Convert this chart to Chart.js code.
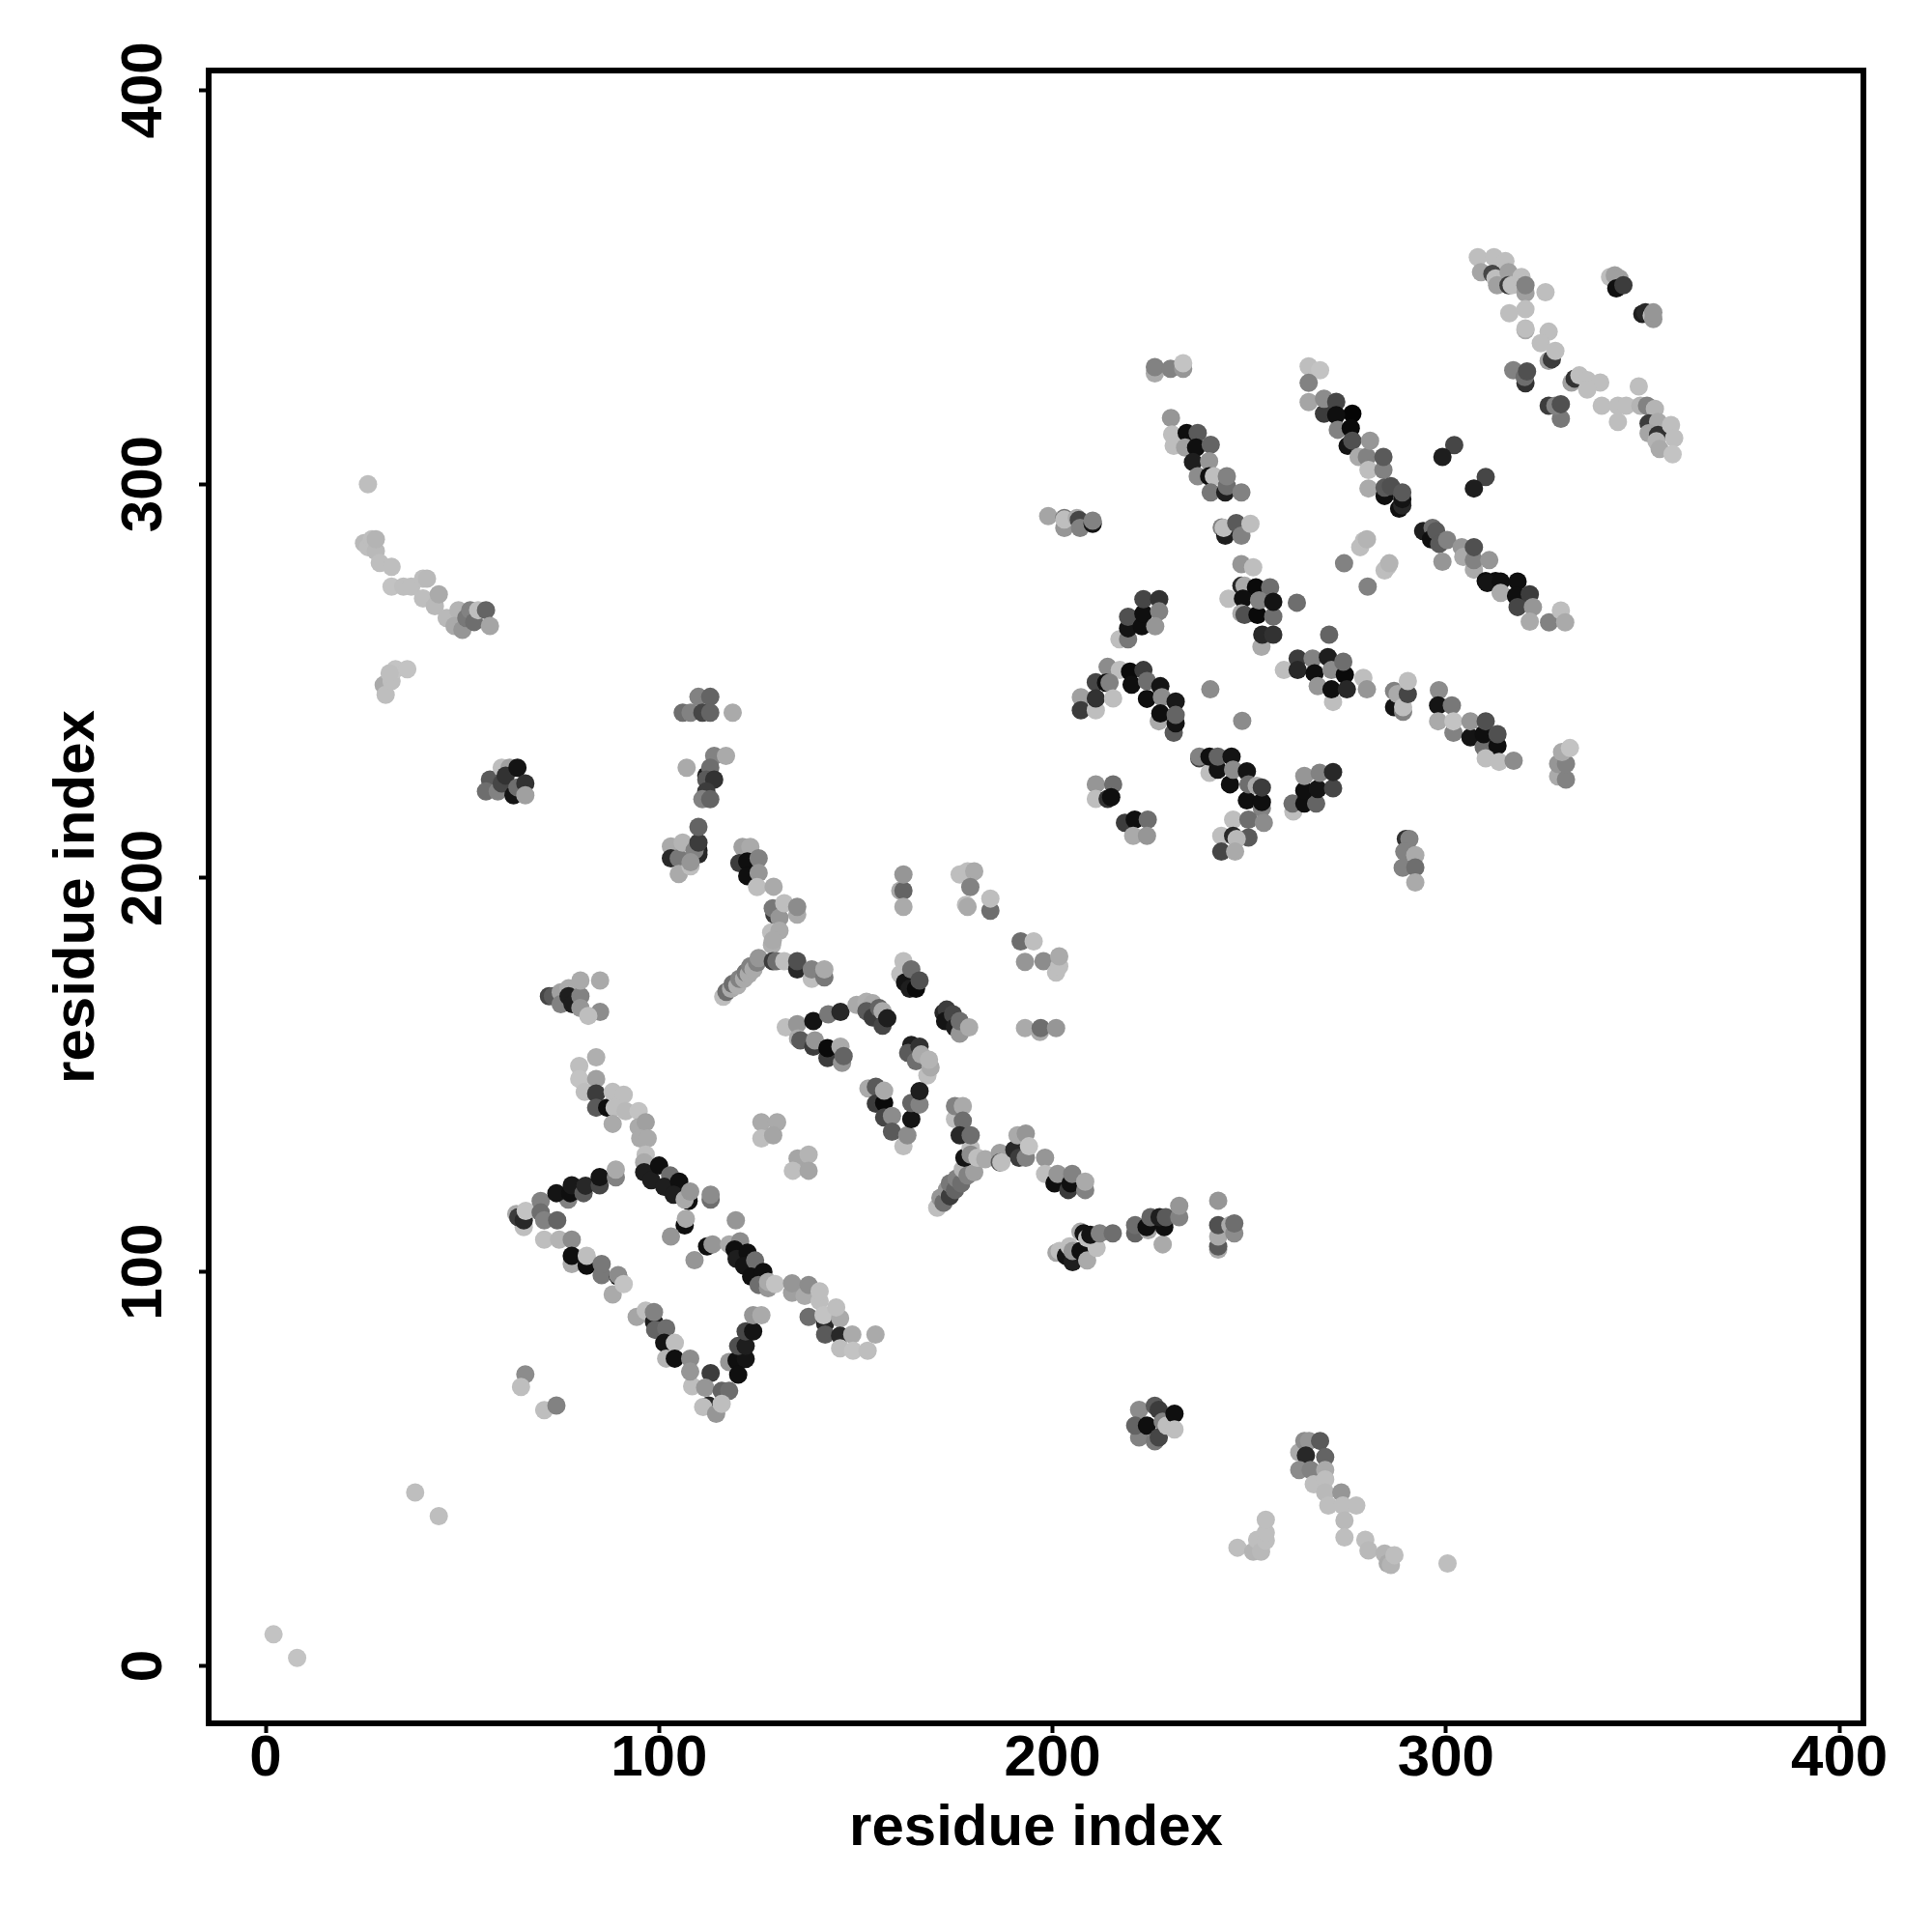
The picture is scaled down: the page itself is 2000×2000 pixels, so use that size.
<!DOCTYPE html>
<html>
<head>
<meta charset="utf-8">
<script src="https://cdn.jsdelivr.net/npm/chart.js@4"></script>
<style>
  html, body { margin: 0; padding: 0; background: #fff; }
</style>
</head>
<body>
<canvas id="contactMap" width="2000" height="2000"></canvas>
<script>
const ctx = document.getElementById('contactMap').getContext('2d');

const tickValues = [0, 100, 200, 300, 400];
const axisTitle = 'residue index';

// each contact is [residue i, residue j, grey level]
const farContacts = [
    [2,8,195],[8,2,195],[38,44,190],[44,38,190],[26,300,190],
    [66,74,140],[64.9,70.8,190],[70.8,64.9,190],[73.9,66.1,130]
];
const leftArm = [
    [25,285,185],[26,284,190],[27,286,190],[28,283,185],[28,286,180],[29,280,190],[32,279,190],[32,274,195],
    [35,274,190],[37,274,190],[40,276,190],[41,276,185],[40,271,190],[43,269,185],[44,272,170],[46,266,185],
    [49,268,180],[48,264,170],[50,263,150],[51,266,120],[52,268,130],[53,265,110],[54,268,190],[56,268,100],[57,264,165],
    [30,249,170],[30.5,246.5,190],[32,250,190],[33,253,195],[36,253,195],[31.5,252,190]
];
const smallBlockA = [
    [57,225,90],[56,222,110],[59,222,130],[60,228,190],[62,228,160],[60,224,70],[61,226,50],[63,221,20],
    [64,223,110],[64,228,20],[66,224,50],[66,221,160]
];
const upperMiddle = [
    [106,242,110],[108,242,130],[110,246,130],[111,242,70],[113,246,100],[113,242,100],[118.7,242,170],[107,228,170],
    [114,231,130],[117,231,170],[112,226,30],[113,228,110],[112,225,90],[114,225,50],[112,222,60],[111,220,130],[113,220,100],
    [103,208,170],[103,205,40],[105,205,120],[105,201,170],[106,209,180],[108,203,190],[110,207,30],[110,206,40],[109,207,130],[110,209,60],[110,213,100],[108,204,150],
    [121.2,207.9,160],[123.2,207.9,170],[120.4,203.8,60],[122.4,204.2,15],[122.4,200.5,15],[125.3,205,130],[125.3,201.3,150],[124.9,197.7,190],[129.1,197.8,170]
];
const yJunction = [
    [129.3,190.7,60],[128.9,192.3,120],[130.6,189.9,150],[131.8,193.6,190],[135.1,190.7,170],[135.1,192.7,140],
    [128.5,186.2,190],[130.6,186.6,170],[128.7,183,175],[128.9,184.2,170],
    [116.3,169.9,190],[117.1,171.1,110],[118.3,171.9,170],[118.7,173.1,110],[119.9,172.7,175],[120.4,174.4,130],[121.6,174.4,170],
    [122,176,120],[122.8,175.6,170],[123.2,177.6,130],[124,176.8,170],[124.9,178.5,130],[125.3,179.7,150],
    [128.9,178.9,60],[129.8,178.9,110],[131.8,178.9,190],[135.1,176.8,40],[135.1,178.9,80],[138.8,174.4,190],[138.8,176.8,130],[142,174.8,120],[142,176.8,170]
];
const shortStrand = [
    [72,170,70],[73,170,90],[75,171,160],[77,172,170],[75,168,130],[77,170,30],[78,168,30],[80,170,130],[80,174,170],
    [80,167,150],[85,174,170],[85,166,140],[82,165,190]
];
const ringPart = [
    [132.2,162.1,190],[135.1,162.9,150],[139.2,163.7,20],[143,165.4,120],[146.1,166,40],[135.3,159.3,170],[135.9,158.8,90],
    [139.2,157.2,60],[139.6,158.8,150],[142.8,154.3,60],[142.8,156.8,10],[146.1,157.2,170],[146.5,153.1,150],[146.9,154.8,100],
    [150.2,167.8,170],[152.7,168.6,175],[154.3,168.2,170],[152.7,166.2,90],[154.3,164.6,60],[155.9,167,100],[156.8,166.2,170],[156.8,162.5,70],[158,164.4,30],
    [161.3,175.6,190],[162.1,178.9,190],[162.5,173.5,20],[163.7,171.9,30],[165.3,171.9,10],[164.1,176.8,110],[166.2,174,80],
    [172.3,165.8,40],[173.1,166.6,60],[172.7,163.7,20],[174.7,165.4,70],[175.2,162.1,30],[176.4,160.5,150],[176.4,163.7,110],[178.8,162.1,170],
    [164.1,157.6,30],[163.3,155.6,90],[166.2,157.2,50],[165.3,153.5,110],[166.6,155.2,170],[168.2,149.9,190],[169,151.9,170],[168.6,153.9,180],
    [153.2,146.6,170],[155.1,147,90],[155.1,142.7,60],[157.2,142.9,10],[157.2,146,170],[157.2,139.2,70],[159.2,139.6,140],[159.2,135.6,90],[162.1,131.9,190],[163.1,134.7,140],
    [164.1,138.8,20],[164.1,142.9,100],[166.2,142.5,130],[166.2,145.9,30],
    [126,138,170],[130,138,170],[126,133.9,190],[129,134.7,165],[135.2,128.8,165],[138,129.8,180],[134,125.7,190],[138,125.7,165]
];
const topMiddlePairs = [
    [161.3,196.8,170],[162.1,196.8,100],[162.1,200.9,150],[162.1,192.7,170],
    [176.4,200.9,190],[178.4,201.7,190],[180.1,201.7,170],[179.1,197.7,130],[178,193.2,190],[178.4,192.7,170],[184.2,191.7,110],[184.2,194.8,190],
    [191.9,183.9,110],[195.2,183.9,190],[193,178.7,150],[197.7,178.9,140],[200.9,176,190],[201.7,177.6,190],[201.7,180.1,170],
    [196.8,160.9,170],[193,161.9,170],[197,161.9,110],[200.9,161.9,150]
];
const longDiagonal = [
    [84,154.5,175],[79.7,152.3,190],[79.7,149,195],[84,149,160],[81.1,145.7,190],[84,145.3,60],[84,141.7,90],[86.8,141.7,15],
    [88.2,145.7,190],[91,145,190],[88.7,141.7,190],[88.2,137.6,170],[91.5,140.8,185],[94.8,140.8,195],[94.8,136.8,170],[96.6,138,160],[95.2,133.9,170],[97.1,133.9,170],
    [96.6,129.8,190],[96.2,127.8,170],[96.2,125.3,30],[98,123.3,30],[100,127,15],[102.8,124.5,110],[101.3,121.6,30],[105.1,122.9,15],
    [103.7,119.6,30],[107.5,118,15],[106.5,118.4,170],[107.9,120.4,150],[113.1,118.4,110],[113.1,119.6,140],
    [106.5,111.8,15],[106.8,113.5,170],[103,109,150],[112.2,106.5,15],[113.6,107,150],[109,103,150],[119.5,113.1,150]
];
const leftBracket = [
    [63.7,114.7,170],[65.6,111.4,190],[64.2,113.9,60],[65.6,113.1,40],[66.1,115.5,195],[69.9,118,130],[69.9,115.1,110],[70.8,113.1,130],[74.1,113.1,100],
    [70.8,108.2,190],[74.6,108.2,180],[77.8,108.2,140],[76.9,118.4,130],[73.9,120,20],[77.4,120,15],[77.8,122,25],[80.8,120,90],[81.3,121.9,40],
    [84.9,122,70],[84.9,124.1,20],[89,124,130],[89,126,170],
    [77.8,102,170],[77.8,104.1,15],[81.6,101.6,15],[81.6,104.1,190],[85.4,99.2,120],[85.4,102,120],[89.6,98.8,20],[89.6,99.2,140],[88.2,94.3,170],[91,96.9,195]
];
const lowerStrand = [
    [117.8,107,170],[120.6,107.8,140],[119.2,105.7,15],[119.7,103.3,30],[122.5,104.9,15],[121.6,101.6,20],[124.4,102.9,110],[123.4,98.8,15],[126.5,100,15],
    [125.3,96.7,110],[127.7,95.9,150],[127.7,97.5,170],[129.5,96.9,195],
    [133.8,94.7,160],[133.8,97.1,150],[137,93.9,170],[138,96.7,140],[140.8,92.6,190],[140.8,95.1,190],[138,88.6,110],[142.2,86.9,40],[141.8,89,195],
    [146,88.2,170],[145,91,190],[142.2,84.1,90],[146,83.8,40],[149.1,84.1,170],[155,84.1,170],[146,80.6,190],[149.3,80,195],[153,80,190]
];
const vShape = [
    [94.3,88.6,165],[96.6,90.2,190],[98.7,87.3,30],[98.7,89.8,130],[99,85.3,100],[101.8,85.7,110],[101.3,82,20],[104,82,190],[101.8,78,180],[104,78,15],
    [107.9,78,140],[108.4,71,190],[107.9,74.7,150],[113.1,74.3,60],[111.7,70.6,150],[115.9,69.8,100],[117.8,69.8,110],
    [112.6,66.1,40],[111.2,65.7,190],[114.5,64,150],[115.9,66.5,190],
    [117.8,77.1,150],[119.7,77.5,15],[122,77.9,20],[120.1,73.9,15],[120.1,81.2,80],[122,81.2,30],[122,84.9,70],[123.9,84.9,20],[123.9,89,150],[126,89,170]
];
const lowerArm = [
    [170.7,116.3,190],[171.5,118.8,150],[172.3,117.6,110],[173.1,120.8,150],[173.9,119.2,60],[173.9,122.5,120],[175.2,120.8,100],[175.6,123.7,130],[176.8,122.5,110],
    [177.2,126.1,180],[178.4,124.5,130],[180.1,125.3,160],[177.6,129,20],[179.2,131.5,190],[179.2,129.8,140],[180.9,129,190],[182.9,128.6,170],
    [186.6,130.2,160],[186.6,127.8,90],[187,127.8,190],[190.3,131,40],[191.5,129,60],[193.2,129,130],[191.1,134.7,170],[193.2,135.1,150],[194,131.9,195],
    [175.2,138.8,190],[175.2,142.1,130],[177.2,142.1,170],[177.2,138.4,110],[176.4,134.7,40],[179.2,134.7,110],
    [198.1,129,150],[198.1,124.9,190],[200.5,122.5,15],[201.3,124.9,150],[204,120.8,60],[204.6,122.5,15],[205,124.9,130],[208.3,120.8,130],[208.3,122.9,170]
];
const lowerMiddleBlocks = [
    [201,104.9,165],[201.8,105.3,190],[203.4,104.1,20],[204.3,106.5,190],[205.1,102.5,30],[205.1,105.3,150],[207.1,105.3,15],[207.1,110.2,170],[207.9,109.8,20],[208.8,108.6,190],
    [208.8,102.9,170],[211.2,106.1,190],[209.6,109.4,20],[212,109.8,130],[215.3,109.8,110],
    [221,109.8,100],[221,111.9,110],[224.3,110.6,170],[223.9,111.4,15],[224.9,113.9,100],[228,107,170],[228.4,111.4,15],[227.2,113.9,30],[228.8,113.9,90],[232.2,113.9,130],[232.2,116.8,150],
    [242.1,118.1,150],[242.1,105.7,170],[242.1,106.5,90],[242.1,109,170],[242.1,111.9,80],[245.2,111.9,170],[246.2,109.8,140],[246.2,112.3,110],
    [222,65,140],[222,58,130],[221,61,100],[224,61,15],[226,57,120],[226,66,90],[227,65,60],[228,62,130],[227,58,70],[229,61,190],[231,64,15],[231,60,190]
];
const bottomRightTail = [
    [262.7,54.2,170],[264,57.1,140],[265.2,57.1,150],[264.4,53.4,40],[268,57.1,90],[269.3,53,100],[262.7,49.7,140],[265.6,49.7,130],[269.3,49.7,170],
    [266.4,46.1,190],[269.3,47.3,190],[269.3,44,185],[270.1,40.7,190],[273.4,44,150],[273.8,40.7,190],[277.2,40.7,190],[274.2,36.9,185],[274.2,32.6,190],
    [279.5,32,190],[280.3,29.3,185],[284.4,28.5,180],[285.2,26,170],[286,25.6,180],[286.9,28.1,190],[300.4,26,190],
    [247,30,190],[251,29,180],[252,32,190],[253,29,185],[254.2,31.8,190],[254.2,33.8,190],[254.2,37.1,190]
];
const rightBlocks = [
    [289.8,209.9,50],[290.7,209.9,130],[289.4,206.7,130],[292.2,205.8,170],[289,202.6,130],[292.2,202.7,110],[292.2,198.9,170],
    [217,260.6,190],[219.2,260.6,120],[219.2,263.4,20],[219.2,266.3,80],[222.7,263.9,15],[223.1,267.1,15],[223.1,270.8,70],[227.1,270.8,50],[227.1,267.7,130],[226.1,263.9,150],
    [214,253.6,140],[217.1,252.8,190],[211,249.7,70],[213.6,249.6,15],[214.5,249.6,130],[219.7,252.4,10],[220.1,249.1,15],[223.1,252.8,60],[224,245.5,15],[224,250,110],
    [227,239.8,170],[227.4,248.7,20],[227.8,245.9,140],[227.4,241.8,15],[231.3,244.8,25],[230.8,236.9,90],[231.3,239.3,20],[231.3,241.4,100],
    [207.2,245.9,160],[207.2,242.6,60],[211,242.6,190],[211,245.6,50],[215.4,245.6,190],
    [211,223.8,150],[215.4,223.8,110],[211,220.1,190],[214,220.1,50],[214.9,220.5,15],
    [218.4,214,60],[220.9,214.8,15],[224.2,214.8,110],[220.5,210.7,170],[224,210.7,150],
    [237.3,230.4,70],[237.3,230.8,130],[239.9,226.7,190],[239.9,230.8,15],[242,227.5,20],[242,230.8,100],[245.5,230.8,20],[245.1,223.8,15],[245.9,227.5,140],
    [249.4,227.1,20],[249.4,219.7,15],[249.8,223.8,110],[251.9,223.4,170],[253.2,217.7,130],[253.2,219.3,15],[253.2,223,60],
    [245.9,214.8,190],[249.8,214.8,110],[249.8,210.3,90],[253.7,214,140],[242.9,210.7,190],[245.9,210.7,40],[246.8,209.9,185],[242.9,206.7,70],[246.4,206.7,170],
    [261.2,216.9,190],[261,218.9,110],[264,218.9,15],[267,218.9,100],[264,222.2,15],[267.4,222.6,20],[264,225.9,150],[267.9,226.7,130],[271.3,222.8,70],[271.3,226.9,40],
    [328.5,225.8,170],[328.5,229,150],[330.5,225,130],[330.5,229,130],[329.5,232,170],[331.5,233,195],
    [240.1,247.9,140],[248.2,239.9,140],[270.3,261.8,100]
];
const rightStrands = [
    [258.8,252.8,190],[262.3,255.7,60],[262.3,252.8,40],[266.1,255.7,130],[266.6,252,15],[267.4,248.7,150],[270,256.1,30],[271.3,244.7,190],[270.9,247.9,15],[270.9,252.8,140],
    [274.3,251.6,10],[274.8,247.9,40],[273.9,254.9,110],[279,250.8,190],[279.9,247.9,150],
    [286.8,247.5,130],[286.8,243.4,20],[287.7,246.7,170],[289.1,242.2,130],[289.1,243.4,190],[290.3,246.7,70],[290.3,250,190],
    [298.2,247.7,140],[298,243.8,20],[298,239.8,170],[301.5,243.8,120],[301.9,236.9,130],[301.9,239.8,195],[306.2,235.7,20],[306.2,239.8,150],
    [309.6,233.2,110],[309.6,236.5,15],[310.1,239.8,80],[313.1,233.6,15],[313.1,236.5,80],[310.1,230.4,190],[313.5,229.5,190],[317.2,229.8,140]
];
const upperBlocks = [
    [226,328.1,170],[226,329.7,130],[230,329.3,130],[233.2,329.3,150],[233.2,330.7,195],
    [230.1,316.8,150],[230.4,312.6,190],[230.8,309.7,190],[234.1,313,15],[233.7,309.3,160],[236.9,313,90],[236.5,309.3,15],[240.2,310,100],[235.7,305.6,30],[239.8,305.8,150],
    [236.9,302,140],[239.8,302,15],[241,302,190],[240.2,297.9,120],[243.9,297.9,30],[244.3,299.5,110],[244.3,302,130],[248,297.9,130],
    [198.9,291.9,165],[203,288.9,150],[203,291.4,120],[203,291,190],[206.2,291.4,170],[206.7,290.9,70],[207,288.9,130],[210.2,289.9,20],[210.2,290.7,130],
    [243,289,130],[243.9,286.9,30],[243.5,288.9,190],[246.7,290.1,90],[248,286.9,130],[250.3,289.9,190],
    [248,279.7,150],[251,278.9,190],
    [248,274.2,40],[248.8,274.2,170],[251.7,273.8,10],[255.3,273.8,110],[244.7,270.9,190],[248.4,270.9,15],[248,267.2,170],[248.8,266.8,80],[252.1,266.8,10],
    [252.5,270.5,130],[256.1,266.4,110],[256.1,270.1,20],[253.1,258.7,170],[253.3,261.8,40],[256.1,261.8,50],[262.1,269.9,110]
];
const upperStrands = [
    [265.1,329.9,190],[268,328.9,195],[265.1,325.7,130],[265.1,320.8,165],[269,317.9,60],[269,321.7,140],[272.1,320.9,70],[276.2,317.9,5],[272.1,317.5,15],[272.5,313.8,130],[275.8,314.2,10],
    [275,309.7,20],[276.2,311,80],[277.8,306.9,170],[279.9,306.9,130],[280.7,311,150],[280.3,303.6,190],[284.1,303.6,130],[284.1,306.9,90],[280.3,298.9,170],
    [284.4,297,15],[284.4,299.1,90],[288.1,293.8,15],[288.9,294.6,40],[288.9,296.2,20],[286,299.5,80],[288.9,297.9,90],
    [302.1,309.9,70],[299.1,306.9,30],[310.1,301.8,70],[307.1,298.9,30],
    [278.2,284,190],[279.1,285.6,190],[279.9,286,180],[274.1,279.9,130],[284.4,278.1,190],[285.2,279.1,190],[285.6,279.9,180],[280.1,274,130],
    [294.2,288.1,30],[296.6,288.9,110],[296.2,286,15],[297.5,288.1,90],[298.3,284.8,90],[300.3,285.8,130],[299.1,280.3,150],[304,284,150],[304.4,281.5,170],
    [307.1,278.3,170],[307.1,280.7,130],[307.1,284,80],[311,280.7,150],[310.1,275.4,15],[312.6,275.4,15],
    [310.5,274.9,20],[313.9,275.3,15],[313.9,272.4,170],[318.2,275.3,15],[317.8,271.6,15],[321.3,272,60],[318.2,268.8,70],[322.1,268.8,150],[321.3,265.1,170],[326.2,264.9,130],[329.2,267.9,190],[330.3,264.9,170]
];
const topRightGroup = [
    [308.1,357.6,190],[312.2,357.6,190],[315.1,356.6,190],[308.9,353.8,165],[311.8,353.4,70],[312.6,352.2,190],[313,350.5,160],[315.9,353.8,160],[315.9,350.5,60],[316.7,350.5,190],
    [319.2,352.6,190],[320.2,348.5,160],[320.2,350.5,130],[325.3,348.7,190],[316.1,343.4,190],[320.2,344.4,190],[320.2,339.1,170],[320.2,339.5,190],
    [326.1,338.7,190],[324.1,335.8,190],[326.1,331.3,160],[326.9,331.7,60],[327.8,333.8,190],
    [317.1,328.9,130],[320.2,325.6,50],[320,327.2,110],[320.6,328.6,80],
    [326.1,319.9,60],[329.2,316.6,120],[327.8,319.9,130],[329.2,320.3,80],
    [331.9,325.8,160],[332.7,326.8,50],[333.9,327.6,190],[335.9,326.4,190],[339.2,325.8,190],[335.9,324,190],
    [339.6,319.9,190],[343.7,319.9,190],[345.8,319.9,190],[343.7,315.8,190],[349,324.8,190],[349.4,319.9,180],[351.1,319.9,130],[353.1,319.1,180],
    [351.5,315.4,60],[353.9,315.8,170],[351.5,312.9,165],[353.9,312.5,50],[353.5,310.9,180],[357.2,315,190],[354.3,308.9,170],[358,311.7,190],[357.6,307.6,195],
    [341.7,352.6,190],[342.9,353,160],[344.1,352.2,160],[343.3,349.7,15],[345.1,350.5,60],
    [349.9,343.2,30],[350.7,343.6,40],[352.3,342.8,190],[352.7,341.9,150],[352.7,343.6,150]
];

const contacts = [].concat(
    farContacts, leftArm, smallBlockA, upperMiddle, yJunction, shortStrand, ringPart, topMiddlePairs,
    longDiagonal, leftBracket, lowerStrand, vShape, lowerArm, lowerMiddleBlocks, bottomRightTail,
    rightBlocks, rightStrands, upperBlocks, upperStrands, topRightGroup
);

const labelFont = { family: '"Liberation Sans"', size: 60, weight: 'bold' };
const titleFont = { family: '"Liberation Sans"', size: 60, weight: 'bold' };

// draws the closed box round the plot, the axes only give two sides
const plotFrame = {
    id: 'plotFrame',
    afterDraw(chart) {
        const { left, top, width, height } = chart.chartArea;
        chart.ctx.save();
        chart.ctx.strokeStyle = '#000';
        chart.ctx.lineWidth = 6;
        chart.ctx.strokeRect(left, top, width, height);
        chart.ctx.restore();
    }
};

const useFixedTicks = (scale) => {
    scale.ticks = tickValues.map(value => ({ value }));
};

new Chart(ctx, {
    type: 'scatter',
    data: {
        datasets: [{
            label: 'contacts',
            data: contacts.map(c => ({ x: c[0], y: c[1] })),
            pointRadius: 9.5,
            pointBorderWidth: 0,
            pointBackgroundColor: contacts.map(c => `rgb(${c[2]},${c[2]},${c[2]})`)
        }]
    },
    options: {
        responsive: false,
        animation: false,
        devicePixelRatio: 1,
        layout: { padding: { left: 0, top: 73, right: 71, bottom: 0 } },
        plugins: { legend: { display: false }, title: { display: false }, tooltip: { enabled: false } },
        scales: {
            x: {
                type: 'linear',
                min: -14.49,
                max: 406.1,
                afterBuildTicks: useFixedTicks,
                afterFit: (scale) => { scale.height = 216; },
                grid: { drawOnChartArea: false, tickLength: 10, tickWidth: 4, tickColor: '#000' },
                border: { display: false },
                ticks: { color: '#000', font: labelFont, padding: -9, autoSkip: false, maxRotation: 0, minRotation: 0 },
                title: { display: true, text: axisTitle, color: '#000', font: titleFont, padding: { top: 0, bottom: 70.5 } }
            },
            y: {
                type: 'linear',
                min: -14.6,
                max: 405,
                afterBuildTicks: useFixedTicks,
                afterFit: (scale) => { scale.width = 216; },
                grid: { drawOnChartArea: false, tickLength: 10, tickWidth: 4, tickColor: '#000' },
                border: { display: false },
                ticks: { color: '#000', font: labelFont, padding: 5.5, autoSkip: false, minRotation: 90, maxRotation: 90, crossAlign: 'center' },
                title: { display: true, text: axisTitle, color: '#000', font: titleFont, padding: { top: 44, bottom: 0 } }
            }
        }
    },
    plugins: [plotFrame]
});
</script>
</body>
</html>
